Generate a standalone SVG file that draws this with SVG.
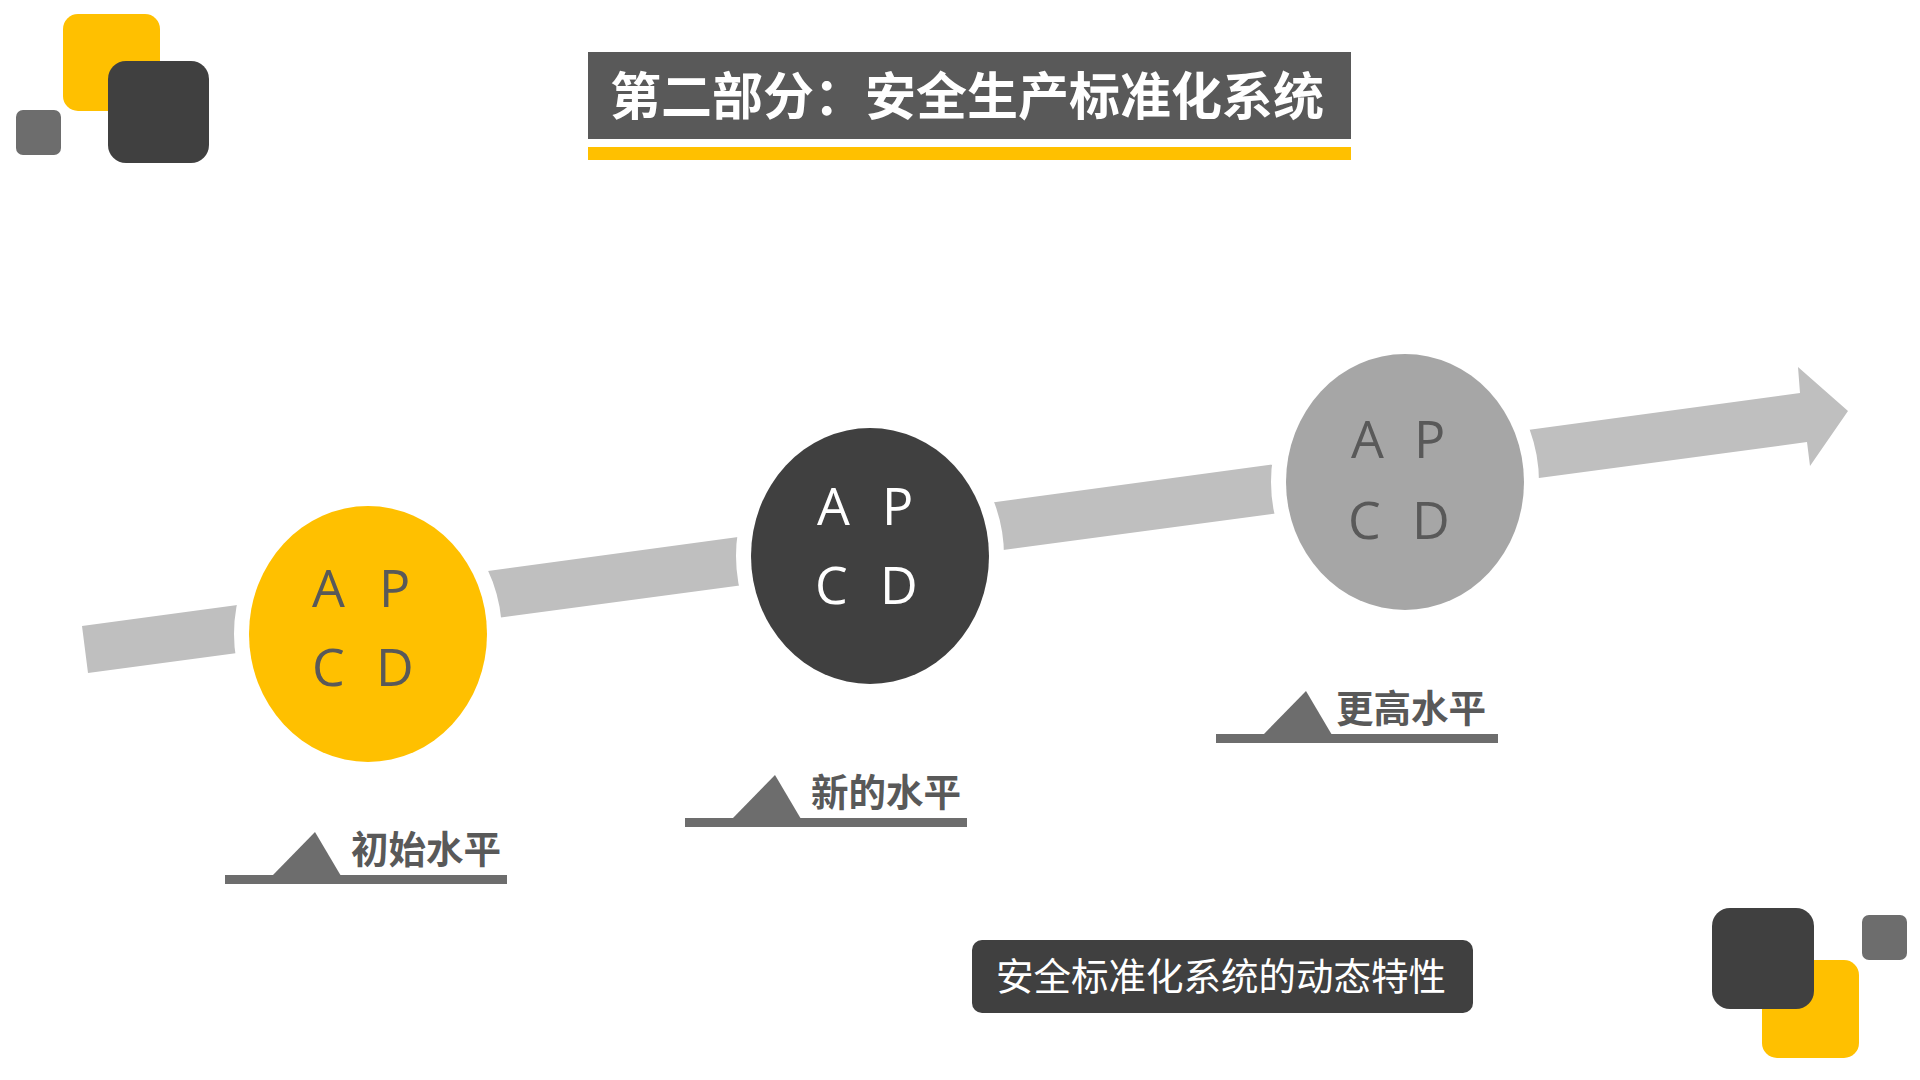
<svg xmlns="http://www.w3.org/2000/svg" width="1920" height="1080" viewBox="0 0 1920 1080">
<style>
.cjk{font-family:"Noto Sans CJK SC","Noto Sans",sans-serif}
.title{font-size:51px;font-weight:700;fill:#ffffff}
.lvl{font-size:37.5px;font-weight:700;fill:#595959}
.cap{font-size:37.5px;font-weight:400;fill:#ffffff}
.pdca{font-family:"Open Sans","Noto Sans",sans-serif;font-size:52px;font-weight:400}
.ring{stroke:#ffffff;stroke-width:30;paint-order:stroke fill}
.bar{fill:#6d6d6d}
</style>
<rect width="1920" height="1080" fill="#ffffff"/>
<g id="deco-top-left">
<rect x="63" y="14" width="97" height="97" rx="15" fill="#ffc000"/>
<rect x="108" y="61" width="101" height="102" rx="18" fill="#404040"/>
<rect x="16" y="110" width="45" height="45" rx="7" fill="#6d6d6d"/>
</g>
<g id="title">
<rect x="588" y="52" width="763" height="87" fill="#595959"/>
<rect x="588" y="147" width="763" height="13" fill="#ffc000"/>
<text class="cjk title" x="610" y="115">第二部分：安全生产标准化系统</text>
</g>
<g id="connectors">
<polygon points="82,626 1800,393 1798,367 1848,411 1810,466 1807,442 88,673" fill="#bfbfbf"/>
</g>
<g id="node-initial">
<ellipse class="ring" cx="368" cy="634" rx="119" ry="128" fill="#ffc000"/>
<text class="pdca" fill="#595959" y="607"><tspan x="312">A</tspan><tspan x="379">P</tspan></text>
<text class="pdca" fill="#595959" y="686"><tspan x="312">C</tspan><tspan x="376">D</tspan></text>
</g>
<g id="node-new">
<ellipse class="ring" cx="870" cy="556" rx="119" ry="128" fill="#404040"/>
<text class="pdca" fill="#ffffff" y="525"><tspan x="817">A</tspan><tspan x="882">P</tspan></text>
<text class="pdca" fill="#ffffff" y="604"><tspan x="815">C</tspan><tspan x="880">D</tspan></text>
</g>
<g id="node-higher">
<ellipse class="ring" cx="1405" cy="482" rx="119" ry="128" fill="#a6a6a6"/>
<text class="pdca" fill="#595959" y="458"><tspan x="1351">A</tspan><tspan x="1414">P</tspan></text>
<text class="pdca" fill="#595959" y="539"><tspan x="1348">C</tspan><tspan x="1412">D</tspan></text>
</g>
<g id="label-initial">
<rect class="bar" x="225" y="875" width="282" height="9"/>
<polygon class="bar" points="272,876 315,832 341,876"/>
<text class="cjk lvl" x="351" y="863">初始水平</text>
</g>
<g id="label-new">
<rect class="bar" x="685" y="818" width="282" height="9"/>
<polygon class="bar" points="732,819 775,775 801,819"/>
<text class="cjk lvl" x="811" y="806">新的水平</text>
</g>
<g id="label-higher">
<rect class="bar" x="1216" y="734" width="282" height="9"/>
<polygon class="bar" points="1263,735 1306,691 1332,735"/>
<text class="cjk lvl" x="1336" y="722">更高水平</text>
</g>
<g id="caption">
<rect x="972" y="940" width="501" height="73" rx="10" fill="#404040"/>
<text class="cjk cap" x="996" y="990">安全标准化系统的动态特性</text>
</g>
<g id="deco-bottom-right">
<rect x="1762" y="960" width="97" height="98" rx="15" fill="#ffc000"/>
<rect x="1712" y="908" width="102" height="101" rx="18" fill="#404040"/>
<rect x="1862" y="915" width="45" height="45" rx="7" fill="#6d6d6d"/>
</g>
</svg>
